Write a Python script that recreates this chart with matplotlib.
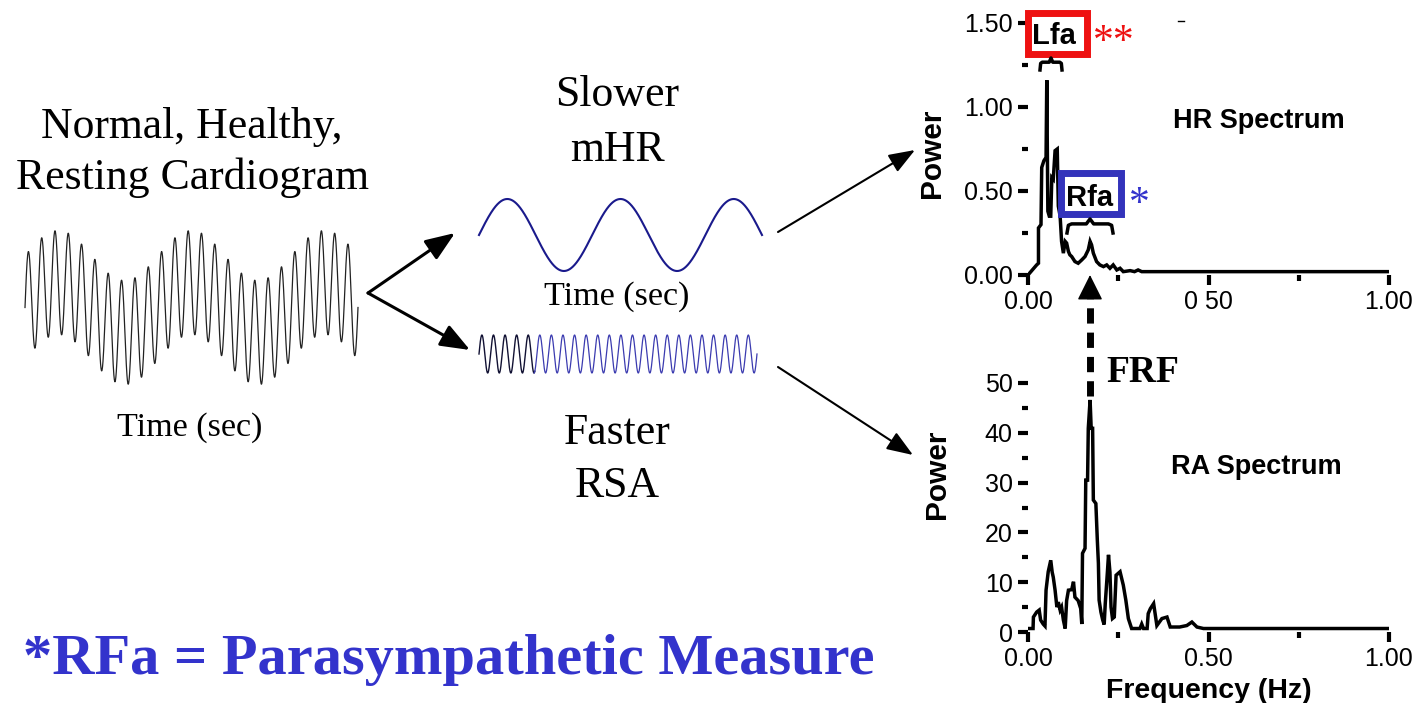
import numpy as np
import matplotlib
matplotlib.use("Agg")
import matplotlib.pyplot as plt
from matplotlib.patches import Rectangle

SERIF = "Liberation Serif"
SANS = "Liberation Sans"

# HR spectrum (frequency Hz, power)
hr_freq = [0.000, 0.024, 0.029, 0.029, 0.036, 0.038, 0.044, 0.050, 0.052, 0.055, 0.059,
           0.063, 0.066, 0.070, 0.075, 0.081, 0.084, 0.089, 0.093, 0.098, 0.103, 0.107,
           0.112, 0.116, 0.121, 0.130, 0.139, 0.149, 0.158, 0.167, 0.172, 0.176, 0.181,
           0.190, 0.199, 0.209, 0.218, 0.227, 0.236, 0.246, 0.255, 0.264, 0.283, 0.295,
           0.305, 0.315, 1.000]
hr_power = [0.00, 0.06, 0.07, 0.28, 0.30, 0.64, 0.68, 0.70, 1.16, 0.38, 0.35,
            0.35, 0.58, 0.57, 0.74, 0.75, 0.41, 0.35, 0.20, 0.13, 0.20, 0.19,
            0.14, 0.12, 0.11, 0.08, 0.07, 0.09, 0.11, 0.15, 0.20, 0.18, 0.13,
            0.08, 0.06, 0.05, 0.06, 0.04, 0.06, 0.03, 0.04, 0.02, 0.026, 0.02,
            0.03, 0.02, 0.02]

# RA spectrum
ra_freq = [0.000, 0.014, 0.015, 0.024, 0.031, 0.035, 0.042, 0.047, 0.050, 0.056, 0.063,
           0.067, 0.070, 0.075, 0.080, 0.084, 0.089, 0.093, 0.098, 0.103, 0.107, 0.112,
           0.121, 0.126, 0.130, 0.139, 0.146, 0.149, 0.151, 0.158, 0.160, 0.165, 0.167,
           0.172, 0.175, 0.179, 0.181, 0.188, 0.192, 0.195, 0.197, 0.202, 0.207, 0.211,
           0.214, 0.220, 0.223, 0.227, 0.230, 0.234, 0.239, 0.244, 0.255, 0.264, 0.271,
           0.278, 0.287, 0.310, 0.315, 0.320, 0.330, 0.333, 0.339, 0.348, 0.357, 0.371,
           0.385, 0.394, 0.420, 0.440, 0.454, 0.468, 0.486, 1.000]
ra_power = [0.7, 0.7, 3.0, 4.0, 4.4, 2.4, 1.6, 1.2, 8.4, 12.1, 14.4,
            12.0, 11.0, 8.4, 5.0, 6.0, 4.4, 5.0, 2.4, 0.7, 6.3, 8.4,
            8.5, 10.1, 7.0, 6.3, 4.7, 1.6, 15.8, 16.8, 30.5, 30.5, 40.9,
            46.6, 40.9, 40.9, 26.5, 25.8, 18.5, 13.8, 6.4, 4.0, 2.4, 1.5,
            5.7, 12.1, 15.5, 12.0, 5.0, 2.7, 3.0, 11.4, 12.1, 9.4, 6.4,
            2.7, 0.7, 0.7, 1.6, 0.7, 0.7, 3.7, 4.7, 5.7, 1.3, 2.7,
            3.0, 1.0, 1.0, 1.3, 2.0, 1.0, 0.7, 0.7]

# schematic waves: cycle counts and amplitudes (px)
ecg_fast_cycles, ecg_slow_cycles = 25, 2.5
ecg_fast_amp, ecg_slow_amp = 52, 25
mhr_cycles, mhr_amp = 2.5, 36
rsa_cycles, rsa_amp = 24, 19

fig = plt.figure(figsize=(14.19, 7.03), dpi=100)
W, H = 1419, 703


def spec_axes(x0, x1, ybot, ytop):
    return fig.add_axes([x0 / W, (H - ybot) / H, (x1 - x0) / W, (ybot - ytop) / H])


def style_spec(a, ymax, ymaj, ymin, ylabels, xlabels):
    a.set_xlim(0, 1)
    a.set_ylim(0, ymax)
    for s in a.spines.values():
        s.set_visible(False)
    a.set_yticks(ymaj)
    a.set_yticklabels(ylabels)
    a.set_yticks(ymin, minor=True)
    a.set_xticks([0, 0.5, 1.0])
    a.set_xticklabels(xlabels)
    a.set_xticks([0.25, 0.75], minor=True)
    a.tick_params(which="major", length=7, width=3, direction="out", pad=4,
                  labelsize=18, color="black")
    a.tick_params(which="minor", length=4, width=3, direction="out", color="black")
    a.tick_params(axis="x", which="major", pad=4)
    for t in a.get_xticklabels() + a.get_yticklabels():
        t.set_family(SANS)


# HR spectrum
ax_hr = spec_axes(1028, 1389, 275, 23)
ax_hr.plot(hr_freq, hr_power, color="black", lw=2.5, solid_joinstyle="miter")
style_spec(ax_hr, 1.5, [0, 0.5, 1.0, 1.5], [0.25, 0.75, 1.25],
           ["0.00", "0.50", "1.00", "1.50"], ["0.00", "0 50", "1.00"])
ax_hr.set_ylabel("Power", family=SANS, fontweight="bold", fontsize=21.5)
ax_hr.yaxis.set_label_coords(-0.227, 0.484)
ax_hr.text(0.64, 0.917, "HR Spectrum", family=SANS, fontweight="bold", fontsize=19.5,
           ha="center", va="center")

# RA spectrum
ax_ra = spec_axes(1028, 1389, 632, 383)
ax_ra.plot(ra_freq, ra_power, color="black", lw=2.5, solid_joinstyle="miter")
style_spec(ax_ra, 50, [0, 10, 20, 30, 40, 50], [5, 15, 25, 35, 45],
           ["0", "10", "20", "30", "40", "50"], ["0.00", "0.50", "1.00"])
ax_ra.set_ylabel("Power", family=SANS, fontweight="bold", fontsize=21.5)
ax_ra.yaxis.set_label_coords(-0.213, 0.634)
ax_ra.set_xlabel("Frequency (Hz)", family=SANS, fontweight="bold", fontsize=20.5, labelpad=5)
ax_ra.text(0.632, 33.1, "RA Spectrum", family=SANS, fontweight="bold", fontsize=19.5,
           ha="center", va="center")

# overlay in pixel coordinates
ax = fig.add_axes([0, 0, 1, 1], facecolor="none")
ax.set_xlim(0, W)
ax.set_ylim(H, 0)
ax.axis("off")

# cardiogram
x = np.linspace(0, 1, 1500)
ecg = ecg_fast_amp * np.sin(2 * np.pi * ecg_fast_cycles * x) + ecg_slow_amp * np.sin(2 * np.pi * ecg_slow_cycles * x)
ax.plot(25 + 333 * x, 307.5 - ecg, color="#222222", lw=0.9)

# slow mHR wave
mhr = mhr_amp * np.sin(2 * np.pi * mhr_cycles * x)
ax.plot(479 + 283 * x, 235 - mhr, color="#1a1a8c", lw=1.5)

# fast RSA wave
rsa = rsa_amp * np.sin(2 * np.pi * rsa_cycles * x)
xr = 479 + 278 * x
cut = xr <= 535
ax.plot(xr[cut], 354 - rsa[cut], color="#111133", lw=1.0)
ax.plot(xr[xr >= 534], 354 - rsa[xr >= 534], color="#3b3bb0", lw=0.9)

# text
tkw = dict(family=SERIF, ha="center", va="center")
ax.text(192, 127, "Normal, Healthy,", fontsize=31.5, **tkw)
ax.text(192, 178, "Resting Cardiogram", fontsize=31.5, **tkw)
ax.text(190, 428, "Time (sec)", fontsize=24.5, **tkw)
ax.text(617, 95, "Slower", fontsize=31.5, **tkw)
ax.text(617, 150, "mHR", fontsize=31.5, **tkw)
ax.text(617, 297, "Time (sec)", fontsize=24.5, **tkw)
ax.text(617, 433, "Faster", fontsize=31.5, **tkw)
ax.text(617, 486, "RSA", fontsize=31.5, **tkw)
ax.text(449, 660, "*RFa = Parasympathetic Measure", fontsize=42, fontweight="bold",
        color="#3333cc", **tkw)
ax.text(1143, 372, "FRF", fontsize=27, fontweight="bold", **tkw)

# arrows
big = dict(arrowstyle="-|>,head_length=0.9,head_width=0.35", mutation_scale=20,
           color="black", lw=2.2, shrinkA=0, shrinkB=0)
thin = dict(arrowstyle="-|>,head_length=0.8,head_width=0.3", mutation_scale=20,
            color="black", lw=1.5, shrinkA=0, shrinkB=0)
ax.annotate("", xy=(455, 233), xytext=(368, 293), arrowprops=big)
ax.annotate("", xy=(470, 350), xytext=(368, 293), arrowprops=big)
ax.annotate("", xy=(915, 150), xytext=(778, 232), arrowprops=thin)
ax.annotate("", xy=(913, 455), xytext=(778, 367), arrowprops=thin)

# dashed FRF arrow
ax.plot([1090, 1090], [396, 292], color="black", lw=5, dashes=(2.2, 1.3),
        solid_capstyle="butt", dash_capstyle="butt")
ax.annotate("", xy=(1090, 275), xytext=(1090, 293),
            arrowprops=dict(arrowstyle="-|>,head_length=0.8,head_width=0.4",
                            mutation_scale=20, color="black", lw=1, shrinkA=0, shrinkB=0))

# Lfa / Rfa boxes
ax.add_patch(Rectangle((1027.5, 12.5), 59.5, 41, fill=False, ec="#ee1111", lw=5))
ax.text(1054, 36, "Lfa", family=SANS, fontweight="bold", fontsize=21, ha="center", va="center")
ax.text(1093, 53, "**", family=SERIF, fontsize=30, color="#ee1111", ha="left", va="baseline")
ax.add_patch(Rectangle((1060.5, 172.5), 60, 41, fill=False, ec="#3333bb", lw=5))
ax.text(1090, 198, "Rfa", family=SANS, fontweight="bold", fontsize=21, ha="center", va="center")
ax.text(1129, 215, "*", family=SERIF, fontsize=30, color="#3333cc", ha="left", va="baseline")

# curly braces over the peaks
brace_u = [0, 0.03, 0.1, 0.42, 0.5, 0.58, 0.9, 0.97, 1]
brace_v = [1, 0.45, 0.35, 0.35, 0.0, 0.35, 0.35, 0.45, 1]
for bx0, bx1, by0, by1 in [(1040, 1062, 58, 70), (1067, 1113, 219, 233)]:
    ax.plot([bx0 + u * (bx1 - bx0) for u in brace_u],
            [by0 + v * (by1 - by0) for v in brace_v], color="black", lw=2.5)

ax.plot([1178, 1184], [21, 21], color="black", lw=1)

fig.savefig("out.png", dpi=100)
